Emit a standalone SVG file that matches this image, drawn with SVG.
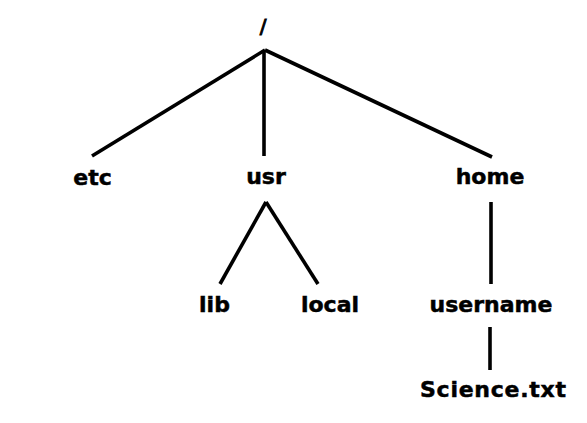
<svg xmlns="http://www.w3.org/2000/svg" width="587" height="423" viewBox="0 0 587 423">
<style>
text{font-family:"DejaVu Sans","Liberation Sans",sans-serif;font-weight:bold;font-size:22px;fill:#000;stroke:#000;stroke-width:0.5;text-anchor:middle}
.c line{stroke:#000;stroke-width:3.6;stroke-linecap:butt}
</style>
<rect width="587" height="423" fill="#fff"/>
<g class="c" id="connectors">
<line x1="265" y1="50" x2="92" y2="156"/>
<line x1="264" y1="50" x2="264" y2="156"/>
<line x1="265" y1="50" x2="492" y2="157"/>
<line x1="266" y1="202" x2="220" y2="284"/>
<line x1="266" y1="202" x2="318" y2="284"/>
<line x1="491" y1="202" x2="491" y2="284"/>
<line x1="490" y1="327" x2="490" y2="370"/>
</g>
<g id="root"><text x="263" y="33" style="font-weight:normal;stroke-width:0.9;font-size:20px">/</text></g>
<g id="etc"><text x="92.5" y="185">etc</text></g>
<g id="usr"><text x="266" y="184">usr</text></g>
<g id="home"><text x="490" y="184">home</text></g>
<g id="lib"><text x="214.5" y="312">lib</text></g>
<g id="local"><text x="330" y="312">local</text></g>
<g id="username"><text x="491" y="312">username</text></g>
<g id="science"><text x="493" y="397" textLength="146" lengthAdjust="spacing">Science.txt</text></g>
</svg>
